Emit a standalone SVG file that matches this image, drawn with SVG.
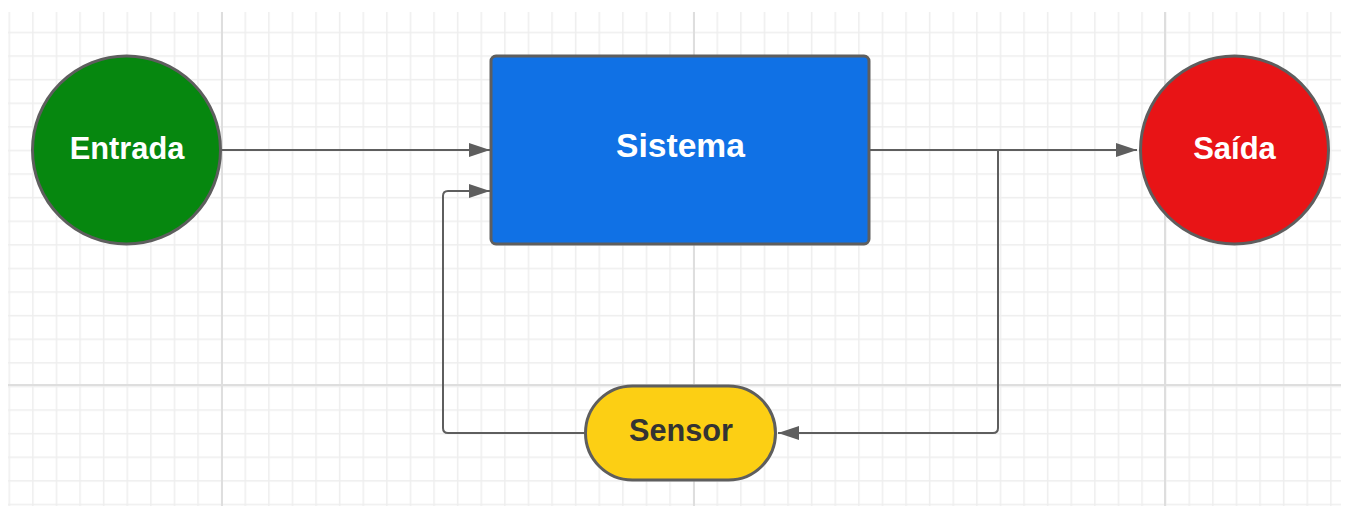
<svg xmlns="http://www.w3.org/2000/svg" width="1349" height="507" viewBox="0 0 1349 507">
  <defs>
    <pattern id="minor" patternUnits="userSpaceOnUse" x="8.5" y="31.7" width="23.6" height="23.6">
      <path d="M0.75,0 V23.6 M0,0.75 H23.6" fill="none" stroke="#eeeeee" stroke-width="1.5"/>
    </pattern>
    <marker id="arrow" markerUnits="userSpaceOnUse" markerWidth="22" markerHeight="15" refX="21" refY="7.5" orient="auto">
      <path d="M0,0.5 L21,7.5 L0,14.5 z" fill="#5e5e5e"/>
    </marker>
    <style>
      .node { stroke: #5e5e5e; stroke-width: 3; }
      .label { font-family: "Liberation Sans", Arial, sans-serif; font-weight: bold; text-anchor: middle; }
      .conn { fill: none; stroke: #5e5e5e; stroke-width: 2; }
      .major { stroke: #dedede; stroke-width: 2; }
    </style>
  </defs>
  <rect width="1349" height="507" fill="#ffffff"/>
  <g id="grid">
    <rect x="8" y="12" width="1333" height="494" fill="url(#minor)"/>
    <path class="major" d="M222,12 V506 M694,12 V506 M1165,12 V506 M8,385 H1341"/>
  </g>
  <g id="connectors">
    <path class="conn" d="M221,150 H490" marker-end="url(#arrow)"/>
    <path class="conn" d="M869,150 H1137" marker-end="url(#arrow)"/>
    <path class="conn" d="M998,150 V428 Q998,433 993,433 H778" marker-end="url(#arrow)"/>
    <path class="conn" d="M585,433 H448 Q443,433 443,428 V196 Q443,191 448,191 H490" marker-end="url(#arrow)"/>
  </g>
  <g id="entrada">
    <circle class="node" cx="126.5" cy="150" r="94" fill="#06870f"/>
    <text class="label" x="127" y="159" font-size="30.8" fill="#ffffff">Entrada</text>
  </g>
  <g id="sistema">
    <rect class="node" x="491" y="56" width="378" height="188" rx="5" fill="#1071e5"/>
    <text class="label" x="680.5" y="157" font-size="33.6" fill="#ffffff">Sistema</text>
  </g>
  <g id="saida">
    <circle class="node" cx="1234.5" cy="150" r="94" fill="#e81416"/>
    <text class="label" x="1234.5" y="159" font-size="31" fill="#ffffff">Saída</text>
  </g>
  <g id="sensor">
    <rect class="node" x="585.5" y="386" width="190" height="94" rx="47" fill="#fccf14"/>
    <text class="label" x="681" y="441" font-size="30.7" fill="#333333">Sensor</text>
  </g>
</svg>
